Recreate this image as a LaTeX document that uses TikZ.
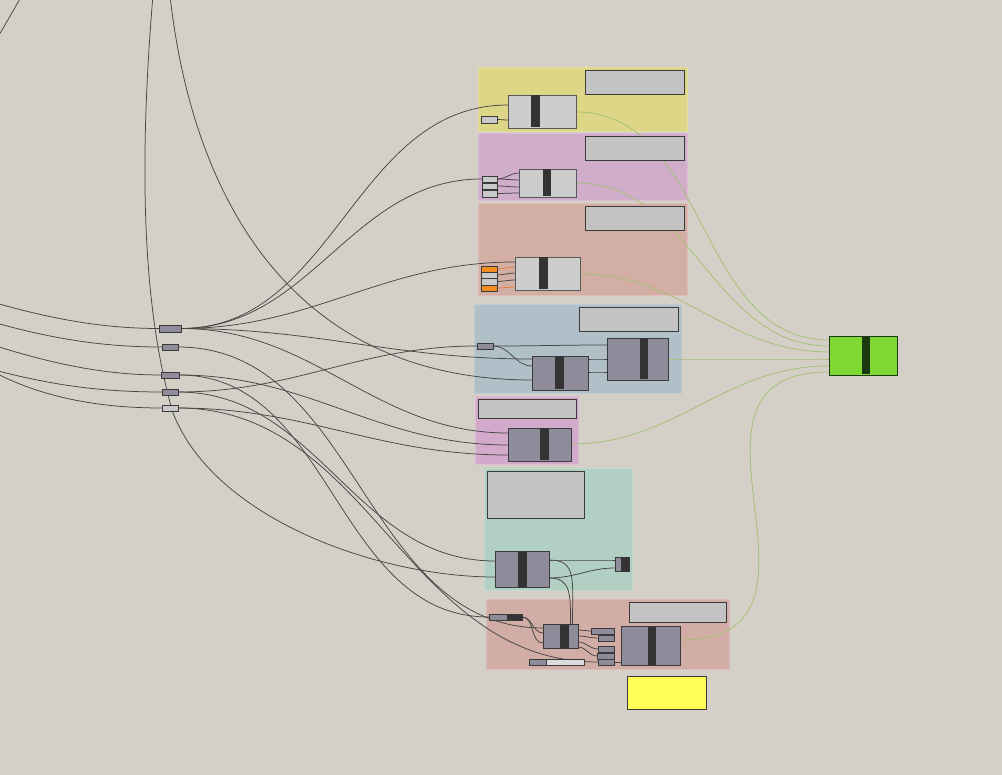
\documentclass[tikz,border=0pt]{standalone}
\usetikzlibrary{calc}
\definecolor{bgc}{HTML}{D4D0C8}
\definecolor{gyel}{HTML}{DDD686}
\definecolor{gpur}{HTML}{D0AECB}
\definecolor{gred}{HTML}{D3AEA5}
\definecolor{gblu}{HTML}{B0BFC8}
\definecolor{gpnk}{HTML}{D3AACB}
\definecolor{ggrn}{HTML}{B1CFC2}
\definecolor{gredb}{HTML}{D1ADA6}
\definecolor{panelc}{HTML}{C3C3C3}
\definecolor{lightc}{HTML}{CDCDCD}
\definecolor{darkc}{HTML}{8E8C9A}
\definecolor{barc}{HTML}{333333}
\definecolor{edgec}{HTML}{3A3A3A}
\definecolor{wirec}{HTML}{454545}
\definecolor{gwirec}{HTML}{A2C070}
\definecolor{owirec}{HTML}{E57A30}
\definecolor{orangec}{HTML}{F28C1E}
\definecolor{limec}{HTML}{7FD932}
\definecolor{limebar}{HTML}{1B3A12}
\definecolor{yelc}{HTML}{FFFF55}
\definecolor{smallc}{HTML}{C9C9C9}
\definecolor{sliderc}{HTML}{DCDCDC}
\pgfdeclarelayer{back}
\pgfdeclarelayer{wires}
\pgfsetlayers{back,wires,main}
\newcommand\bx[6]{\node[#2,anchor=north west,minimum width={(#5)-(#3)},minimum height={(#6)-(#4)}] (#1) at (#3,#4) {};}
\newcommand\gbar[5][barc]{\fill[#1] (#2,#3) rectangle (#4,#5);}
\tikzset{
  bxs/.style={rectangle,inner sep=0pt,outer sep=0pt,line width=0.8pt},
  grp/.style={bxs,fill=#1,draw=#1!80!white},
  panel/.style={bxs,fill=panelc,draw=edgec},
  lcomp/.style={bxs,fill=lightc,draw=edgec!85},
  dcomp/.style={bxs,fill=darkc,draw=edgec},
  lpar/.style={bxs,fill=smallc,draw=edgec},
  dpar/.style={bxs,fill=darkc,draw=edgec},
  opar/.style={bxs,fill=orangec,draw=edgec},
  gcomp/.style={bxs,fill=limec,draw=limebar},
  ybox/.style={bxs,fill=yelc,draw=edgec},
  wire/.style={draw=wirec,line width=0.75pt},
  gwire/.style={draw=gwirec,line width=0.75pt},
  owire/.style={draw=owirec,line width=0.75pt},
  gh/.style={out=0,in=180}
}
\begin{document}
\begin{tikzpicture}[x=1pt,y=-1pt]
\useasboundingbox (0,0) rectangle (1002,775);
\clip (0,0) rectangle (1002,775);
\begin{pgfonlayer}{back}
\fill[bgc] (0,0) rectangle (1002,775);
\bx{g1}{grp=gyel}{478}{67}{687}{131}
\bx{g2}{grp=gpur}{478}{133}{687}{200}
\bx{g3}{grp=gred}{478}{203}{687}{295}
\bx{g4}{grp=gblu}{474}{304}{681}{393}
\bx{g5}{grp=gpnk}{475}{396}{578}{464}
\bx{g6}{grp=ggrn}{484}{468}{632}{590}
\bx{g7}{grp=gredb}{486}{599}{729}{669}
\end{pgfonlayer}
% panels
\bx{pn1}{panel}{585}{70}{684}{94}
\bx{pn2}{panel}{585}{136}{684}{160}
\bx{pn3}{panel}{585}{206}{684}{230}
\bx{pn4}{panel}{579}{307}{678}{331}
\bx{pn5}{panel}{478}{399}{576}{418}
\bx{pn6}{panel}{487}{471}{584}{518}
\bx{pn7}{panel}{629}{602}{726}{622}
% components
\bx{c1}{lcomp}{508}{95}{576}{128} \gbar{531}{95.5}{540}{127.5}
\bx{c2}{lcomp}{519}{169}{576}{197} \gbar{543}{169.5}{551}{196.5}
\bx{c3}{lcomp}{515}{257}{580}{290} \gbar{539}{257.5}{548}{289.5}
\bx{cA}{dcomp}{532}{356}{588}{390} \gbar{555}{356.5}{564}{389.5}
\bx{cB}{dcomp}{607}{338}{668}{380} \gbar{640}{338.5}{648}{379.5}
\bx{c5}{dcomp}{508}{428}{571}{461} \gbar{540}{428.5}{549}{460.5}
\bx{c6}{dcomp}{495}{551}{549}{587} \gbar{518}{551.5}{527}{586.5}
\bx{cC}{dcomp}{543}{624}{578}{648} \gbar{560}{624.5}{569}{647.5}
\bx{cD}{dcomp}{621}{626}{680}{665} \gbar{648}{626.5}{656}{664.5}
\bx{gr}{gcomp}{829}{336}{897}{375} \gbar[limebar]{862}{336.5}{870}{374.5}
\bx{yb}{ybox}{627}{676}{706}{709}
% small parameters
\bx{yp}{lpar}{481}{116}{497}{123}
\bx{pp1}{lpar}{482}{176}{497}{182}
\bx{pp2}{lpar}{482}{183}{497}{189}
\bx{pp3}{lpar}{482}{190}{497}{197}
\bx{rp1}{opar}{481}{266}{497}{272}
\bx{rp2}{lpar}{481}{272}{497}{278}
\bx{rp3}{lpar}{481}{278}{497}{285}
\bx{rp4}{opar}{481}{285}{497}{291}
\bx{bp}{dpar}{477}{343}{493}{349}
\bx{sm}{dpar}{615}{557}{629}{571} \gbar{621}{557.5}{628.5}{570.5}
\bx{rq}{dpar}{489}{614}{522}{620} \gbar{507}{614.5}{521.5}{619.5}
\bx{s1}{dpar}{591}{628}{614}{634}
\bx{s2}{dpar}{598}{635}{614}{641}
\bx{s3}{dpar}{598}{646}{614}{652}
\bx{s4}{dpar}{597}{653}{614}{659}
\bx{s5}{dpar}{598}{659}{614}{665}
\bx{sl}{dpar}{529}{659}{584}{665} \gbar[sliderc]{546}{659.5}{583.5}{664.5}
\draw[edgec,line width=0.8pt] (546,659) -- (546,665);
% left parameters
\bx{P1}{dpar}{159}{325}{181}{332}
\bx{P2}{dpar}{162}{344}{178}{350}
\bx{P3}{dpar}{161}{372}{179}{378}
\bx{P4}{dpar}{162}{389}{178}{395}
\bx{P5}{lpar}{162}{405}{178}{411}
\begin{pgfonlayer}{wires}
\coordinate (L1) at (-40,292);
\coordinate (L2) at (-40,312);
\coordinate (L3) at (-40,334);
\coordinate (L4) at (-40,360);
\coordinate (L5) at (-30,358);
\coordinate (TL1) at (-10,50);
\coordinate (TL2) at (25,-10);
\coordinate (T1) at (153,-5);
\coordinate (T2) at (170,-5);
\draw[wire] (L1) .. controls (40,318) and (100,328.5) .. (P1.west);
\draw[wire] (L2) .. controls (40,338) and (100,347) .. (P2.west);
\draw[wire] (L3) .. controls (40,362) and (100,375) .. (P3.west);
\draw[wire] (L4) .. controls (40,385) and (100,392) .. (P4.west);
\draw[wire] (L5) .. controls (30,398) and (100,408) .. (P5.west);
\draw[wire] (TL1) .. controls (5,25) .. (TL2);
\draw[wire] (T1) .. controls (140,150) and (140,300) .. (173,413) .. controls (215,520) and (380,577) .. ([yshift=-26pt]c6.north west);
\draw[wire] (T2) .. controls (190,180) and (280,380) .. ([yshift=-24pt]cA.north west);
% fan of P1
\draw[wire] (P1.east) to[gh] ([yshift=-10pt]c1.north west);
\draw[wire] (P1.east) to[gh] (pp1.west);
\draw[wire] (P1.east) to[gh] ([yshift=-5pt]c3.north west);
\draw[wire] (P1.east) to[gh] ([yshift=-3pt]cA.north west);
\draw[wire] (P1.east) to[gh] ([yshift=-5pt]c5.north west);
% other left params
\draw[wire] (P2.east) to[gh] ([yshift=-4pt]cC.north west);
\draw[wire] (P3.east) to[gh] ([yshift=-17pt]c5.north west);
\draw[wire] (P3.east) to[gh] (rq.west);
\draw[wire] (P4.east) to[gh] (bp.west);
\draw[wire] (P4.east) to[gh] ([yshift=-10pt]c6.north west);
\draw[wire] (P5.east) to[gh] ([yshift=-27pt]c5.north west);
\draw[wire] (P5.east) to[gh] (s5.west);
% inside groups
\draw[wire] (yp.east) to[gh] ([yshift=-25pt]c1.north west);
\draw[wire] (pp1.east) to[gh] ([yshift=-4pt]c2.north west);
\draw[wire] (pp1.east) to[gh] ([yshift=-11pt]c2.north west);
\draw[wire] (pp2.east) to[gh] ([yshift=-18pt]c2.north west);
\draw[wire] (pp3.east) to[gh] ([yshift=-24pt]c2.north west);
\draw[owire] (rp1.east) to[gh] ([yshift=-10pt]c3.north west);
\draw[wire] (rp2.east) to[gh] ([yshift=-16pt]c3.north west);
\draw[wire] (rp3.east) to[gh] ([yshift=-23pt]c3.north west);
\draw[owire] (rp4.east) to[gh] ([yshift=-30pt]c3.north west);
\draw[wire] (bp.east) to[gh] ([yshift=-7pt]cB.north west);
\draw[wire] (bp.east) to[gh] ([yshift=-10pt]cA.north west);
\draw[wire] ([yshift=-3pt]cA.north east) to[gh] ([yshift=-21pt]cB.north west);
\draw[wire] ([yshift=-16pt]cA.north east) to[gh] ([yshift=-34pt]cB.north west);
\draw[wire] ([yshift=-9pt]c6.north east) to[gh] ([yshift=-3pt]sm.north west);
\draw[wire] ([yshift=-27pt]c6.north east) to[gh] ([yshift=-11pt]sm.north west);
\draw[wire] ([yshift=-9pt]c6.north east) .. controls +(28,0) and +(0,-45) .. ([xshift=12pt]cC.north);
\draw[wire] ([yshift=-27pt]c6.north east) .. controls +(22,0) and +(0,-30) .. ([xshift=10pt]cC.north);
\draw[wire] (rq.east) to[gh] ([yshift=-9pt]cC.north west);
\draw[wire] (rq.east) to[gh] ([yshift=-19pt]cC.north west);
\draw[wire] ([yshift=-6pt]cC.north east) to[gh] (s1.west);
\draw[wire] ([yshift=-12pt]cC.north east) to[gh] (s2.west);
\draw[wire] ([yshift=-18pt]cC.north east) to[gh] (s3.west);
\draw[wire] ([yshift=-23pt]cC.north east) to[gh] (s4.west);
\draw[wire] (s5.east) to[gh] ([yshift=-36pt]cD.north west);
% green wires
\draw[gwire] ([yshift=-17pt]c1.north east) to[gh] ([yshift=-4pt]gr.north west);
\draw[gwire] ([yshift=-14pt]c2.north east) to[gh] ([yshift=-10pt]gr.north west);
\draw[gwire] ([yshift=-17pt]c3.north east) to[gh] ([yshift=-16pt]gr.north west);
\draw[gwire] ([yshift=-21pt]cB.north east) to[gh] ([yshift=-23pt]gr.north west);
\draw[gwire] ([yshift=-16pt]c5.north east) to[gh] ([yshift=-30pt]gr.north west);
\draw[gwire] ([yshift=-14pt]cD.north east) .. controls +(180,0) and +(-180,0) .. ([yshift=-36pt]gr.north west);
\end{pgfonlayer}
\end{tikzpicture}
\end{document}
